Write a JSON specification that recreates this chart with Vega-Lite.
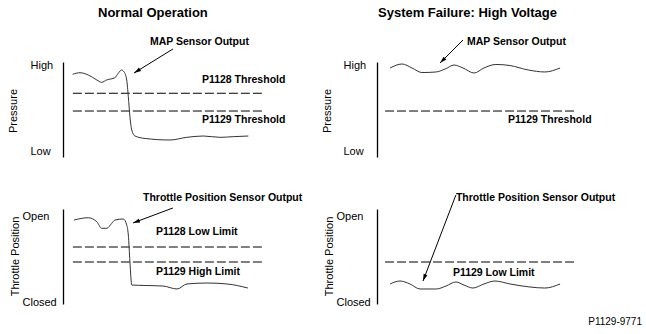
{
  "$schema": "https://vega.github.io/schema/vega-lite/v6.json",
  "autosize": {"type": "none"},
  "padding": {"left": 63, "top": 62, "right": 39, "bottom": 30},
  "params": [{"name": "width", "value": 544}, {"name": "height", "value": 242}],
  "background": "white",
  "config": {
    "font": "Liberation Sans",
    "view": {"stroke": null},
    "title": {"fontSize": 13, "fontWeight": "bold", "color": "#000", "anchor": "start", "frame": "group", "baseline": "alphabetic"},
    "axisY": {"grid": false, "ticks": false, "tickSize": 0, "domain": true, "domainColor": "#000", "domainWidth": 1.3,
              "labelAlign": "left", "labelBaseline": "middle", "labelFontSize": 11, "labelColor": "#000", "labelFlush": false, "labelOverlap": false,
              "titleAngle": -90, "titleAlign": "center", "titleBaseline": "middle", "titleFontSize": 11, "titleFontWeight": "normal", "titleColor": "#000"}
  },
  "datasets": {
    "curves": [
      {"panel": "A", "t": 4.2, "v": 87.1}, {"panel": "A", "t": 7.4, "v": 88.7}, {"panel": "A", "t": 11.0, "v": 86.3},
      {"panel": "A", "t": 14.7, "v": 81.1}, {"panel": "A", "t": 16.8, "v": 78.6}, {"panel": "A", "t": 19.0, "v": 81.1},
      {"panel": "A", "t": 22.6, "v": 83.5}, {"panel": "A", "t": 24.0, "v": 88.1}, {"panel": "A", "t": 25.5, "v": 91.6},
      {"panel": "A", "t": 26.5, "v": 89.8}, {"panel": "A", "t": 27.7, "v": 81.1}, {"panel": "A", "t": 28.4, "v": 63.5},
      {"panel": "A", "t": 29.1, "v": 42.4}, {"panel": "A", "t": 29.9, "v": 28.4}, {"panel": "A", "t": 31.3, "v": 22.1},
      {"panel": "A", "t": 35.7, "v": 19.5}, {"panel": "A", "t": 46.5, "v": 17.9}, {"panel": "A", "t": 53.8, "v": 20.7},
      {"panel": "A", "t": 61.0, "v": 22.1}, {"panel": "A", "t": 68.3, "v": 20.7}, {"panel": "A", "t": 74.0, "v": 21.4},
      {"panel": "A", "t": 80.6, "v": 22.1},
      {"panel": "B", "t": 5.7, "v": 93.7}, {"panel": "B", "t": 10.9, "v": 97.9}, {"panel": "B", "t": 15.2, "v": 93.7},
      {"panel": "B", "t": 19.6, "v": 88.9}, {"panel": "B", "t": 25.7, "v": 89.5}, {"panel": "B", "t": 29.6, "v": 92.6},
      {"panel": "B", "t": 33.5, "v": 96.8}, {"panel": "B", "t": 37.4, "v": 93.7}, {"panel": "B", "t": 42.2, "v": 88.4},
      {"panel": "B", "t": 46.5, "v": 93.7}, {"panel": "B", "t": 51.7, "v": 97.4}, {"panel": "B", "t": 57.8, "v": 96.3},
      {"panel": "B", "t": 65.7, "v": 91.6}, {"panel": "B", "t": 73.0, "v": 89.5}, {"panel": "B", "t": 79.6, "v": 93.7},
      {"panel": "C", "t": 4.8, "v": 88.4}, {"panel": "C", "t": 11.0, "v": 90.8}, {"panel": "C", "t": 14.7, "v": 86.6},
      {"panel": "C", "t": 16.8, "v": 79.7}, {"panel": "C", "t": 19.0, "v": 79.7}, {"panel": "C", "t": 21.2, "v": 84.9},
      {"panel": "C", "t": 22.6, "v": 88.4}, {"panel": "C", "t": 26.2, "v": 89.5}, {"panel": "C", "t": 27.7, "v": 83.2},
      {"panel": "C", "t": 28.4, "v": 72.6}, {"panel": "C", "t": 29.1, "v": 44.5}, {"panel": "C", "t": 29.9, "v": 20.0},
      {"panel": "C", "t": 35.7, "v": 19.5}, {"panel": "C", "t": 43.5, "v": 18.9}, {"panel": "C", "t": 49.6, "v": 15.8},
      {"panel": "C", "t": 53.9, "v": 21.1}, {"panel": "C", "t": 62.6, "v": 22.1}, {"panel": "C", "t": 71.3, "v": 21.1},
      {"panel": "C", "t": 80.4, "v": 16.8},
      {"panel": "D", "t": 5.7, "v": 21.1}, {"panel": "D", "t": 10.0, "v": 24.2}, {"panel": "D", "t": 14.3, "v": 21.1},
      {"panel": "D", "t": 18.7, "v": 15.8}, {"panel": "D", "t": 25.7, "v": 15.8}, {"panel": "D", "t": 30.0, "v": 18.9},
      {"panel": "D", "t": 34.3, "v": 23.2}, {"panel": "D", "t": 37.8, "v": 20.0}, {"panel": "D", "t": 41.7, "v": 16.8},
      {"panel": "D", "t": 46.5, "v": 21.1}, {"panel": "D", "t": 51.3, "v": 24.2}, {"panel": "D", "t": 57.8, "v": 21.1},
      {"panel": "D", "t": 66.5, "v": 17.9}, {"panel": "D", "t": 73.0, "v": 16.8}, {"panel": "D", "t": 79.6, "v": 21.1}
    ],
    "limits": [
      {"panel": "A", "t": 4.3, "t2": 87.0, "v": 67.1},
      {"panel": "A", "t": 4.3, "t2": 87.0, "v": 48.4},
      {"panel": "B", "t": 3.5, "t2": 86.5, "v": 48.4},
      {"panel": "C", "t": 4.3, "t2": 87.0, "v": 60.0},
      {"panel": "C", "t": 4.3, "t2": 87.0, "v": 44.2},
      {"panel": "D", "t": 3.5, "t2": 86.1, "v": 44.2}
    ],
    "arrows": [
      {"panel": "A", "t": 47.8, "v": 113.7, "t2": 30.9, "v2": 88.4, "dir": 238},
      {"panel": "B", "t": 37.4, "v": 123.2, "t2": 27.4, "v2": 98.9, "dir": 225},
      {"panel": "C", "t": 47.8, "v": 101.1, "t2": 30.4, "v2": 85.3, "dir": 250},
      {"panel": "D", "t": 34.3, "v": 114.7, "t2": 20.0, "v2": 24.2, "dir": 201}
    ],
    "notes": [
      {"panel": "A", "t": 37.8, "v": 121.0, "text": "MAP Sensor Output"},
      {"panel": "A", "t": 60.4, "v": 81.1, "text": "P1128 Threshold"},
      {"panel": "A", "t": 60.4, "v": 38.9, "text": "P1129 Threshold"},
      {"panel": "B", "t": 39.1, "v": 121.0, "text": "MAP Sensor Output"},
      {"panel": "B", "t": 57.0, "v": 38.9, "text": "P1129 Threshold"},
      {"panel": "C", "t": 34.8, "v": 111.6, "text": "Throttle Position Sensor Output"},
      {"panel": "C", "t": 40.4, "v": 75.8, "text": "P1128 Low Limit"},
      {"panel": "C", "t": 40.4, "v": 33.7, "text": "P1129 High Limit"},
      {"panel": "D", "t": 34.3, "v": 111.6, "text": "Throttle Position Sensor Output"},
      {"panel": "D", "t": 33.0, "v": 32.6, "text": "P1129 Low Limit"}
    ],
    "source": [
      {"t": 115.2, "v": -18.9, "text": "P1129-9771"}
    ]
  },
  "concat": [
    {
      "width": 230, "height": 95,
      "title": {"text": "Normal Operation", "dx": 35, "offset": 17},
      "encoding": {
        "x": {"field": "t", "type": "quantitative", "scale": {"domain": [0, 100]}, "axis": null},
        "y": {"field": "v", "type": "quantitative", "scale": {"domain": [0, 100]},
              "axis": {"title": "Pressure", "values": [5.3, 96.8], "labelExpr": "datum.value > 50 ? 'High' : 'Low'", "labelPadding": 33, "titleX": -50, "titleY": 48.5}}
      },
      "layer": [
        {"data": {"name": "limits"}, "transform": [{"filter": "datum.panel === 'A'"}],
         "mark": {"type": "rule", "strokeDash": [9, 3], "color": "#000", "strokeWidth": 1},
         "encoding": {"x2": {"field": "t2"}}},
        {"data": {"name": "curves"}, "transform": [{"filter": "datum.panel === 'A'"}],
         "mark": {"type": "line", "interpolate": "monotone", "color": "#333", "strokeWidth": 1}},
        {"data": {"name": "arrows"}, "transform": [{"filter": "datum.panel === 'A'"}],
         "mark": {"type": "rule", "color": "#000", "strokeWidth": 1},
         "encoding": {"x2": {"field": "t2"}, "y2": {"field": "v2"}}},
        {"data": {"name": "arrows"}, "transform": [{"filter": "datum.panel === 'A'"}],
         "mark": {"type": "point", "shape": "M0,0L-0.5,1.75L0.5,1.75Z", "filled": true, "size": 64, "color": "#000", "opacity": 1},
         "encoding": {"x": {"field": "t2", "type": "quantitative"}, "y": {"field": "v2", "type": "quantitative"}, "angle": {"field": "dir", "type": "quantitative", "scale": null}}},
        {"data": {"name": "notes"}, "transform": [{"filter": "datum.panel === 'A'"}],
         "mark": {"type": "text", "align": "left", "baseline": "middle", "fontSize": 10.5, "fontWeight": "bold", "color": "#000"},
         "encoding": {"text": {"field": "text"}}}
      ]
    },
    {
      "width": 230, "height": 95,
      "title": {"text": "System Failure: High Voltage", "dx": 1, "offset": 17},
      "encoding": {
        "x": {"field": "t", "type": "quantitative", "scale": {"domain": [0, 100]}, "axis": null},
        "y": {"field": "v", "type": "quantitative", "scale": {"domain": [0, 100]},
              "axis": {"title": "Pressure", "values": [5.3, 96.8], "labelExpr": "datum.value > 50 ? 'High' : 'Low'", "labelPadding": 34, "titleX": -50, "titleY": 48.5}}
      },
      "layer": [
        {"data": {"name": "limits"}, "transform": [{"filter": "datum.panel === 'B'"}],
         "mark": {"type": "rule", "strokeDash": [9, 3], "color": "#000", "strokeWidth": 1},
         "encoding": {"x2": {"field": "t2"}}},
        {"data": {"name": "curves"}, "transform": [{"filter": "datum.panel === 'B'"}],
         "mark": {"type": "line", "interpolate": "monotone", "color": "#333", "strokeWidth": 1}},
        {"data": {"name": "arrows"}, "transform": [{"filter": "datum.panel === 'B'"}],
         "mark": {"type": "rule", "color": "#000", "strokeWidth": 1},
         "encoding": {"x2": {"field": "t2"}, "y2": {"field": "v2"}}},
        {"data": {"name": "arrows"}, "transform": [{"filter": "datum.panel === 'B'"}],
         "mark": {"type": "point", "shape": "M0,0L-0.5,1.75L0.5,1.75Z", "filled": true, "size": 64, "color": "#000", "opacity": 1},
         "encoding": {"x": {"field": "t2", "type": "quantitative"}, "y": {"field": "v2", "type": "quantitative"}, "angle": {"field": "dir", "type": "quantitative", "scale": null}}},
        {"data": {"name": "notes"}, "transform": [{"filter": "datum.panel === 'B'"}],
         "mark": {"type": "text", "align": "left", "baseline": "middle", "fontSize": 10.5, "fontWeight": "bold", "color": "#000"},
         "encoding": {"text": {"field": "text"}}}
      ]
    },
    {
      "width": 230, "height": 95,
      "encoding": {
        "x": {"field": "t", "type": "quantitative", "scale": {"domain": [0, 100]}, "axis": null},
        "y": {"field": "v", "type": "quantitative", "scale": {"domain": [0, 100]},
              "axis": {"title": "Throttle Position", "values": [2.1, 91.6], "labelExpr": "datum.value > 50 ? 'Open' : 'Closed'", "labelPadding": 41, "titleX": -48, "titleY": 47}}
      },
      "layer": [
        {"data": {"name": "limits"}, "transform": [{"filter": "datum.panel === 'C'"}],
         "mark": {"type": "rule", "strokeDash": [9, 3], "color": "#000", "strokeWidth": 1},
         "encoding": {"x2": {"field": "t2"}}},
        {"data": {"name": "curves"}, "transform": [{"filter": "datum.panel === 'C'"}],
         "mark": {"type": "line", "interpolate": "monotone", "color": "#333", "strokeWidth": 1}},
        {"data": {"name": "arrows"}, "transform": [{"filter": "datum.panel === 'C'"}],
         "mark": {"type": "rule", "color": "#000", "strokeWidth": 1},
         "encoding": {"x2": {"field": "t2"}, "y2": {"field": "v2"}}},
        {"data": {"name": "arrows"}, "transform": [{"filter": "datum.panel === 'C'"}],
         "mark": {"type": "point", "shape": "M0,0L-0.5,1.75L0.5,1.75Z", "filled": true, "size": 64, "color": "#000", "opacity": 1},
         "encoding": {"x": {"field": "t2", "type": "quantitative"}, "y": {"field": "v2", "type": "quantitative"}, "angle": {"field": "dir", "type": "quantitative", "scale": null}}},
        {"data": {"name": "notes"}, "transform": [{"filter": "datum.panel === 'C'"}],
         "mark": {"type": "text", "align": "left", "baseline": "middle", "fontSize": 10.5, "fontWeight": "bold", "color": "#000"},
         "encoding": {"text": {"field": "text"}}}
      ]
    },
    {
      "width": 230, "height": 95,
      "encoding": {
        "x": {"field": "t", "type": "quantitative", "scale": {"domain": [0, 100]}, "axis": null},
        "y": {"field": "v", "type": "quantitative", "scale": {"domain": [0, 100]},
              "axis": {"title": "Throttle Position", "values": [2.1, 91.6], "labelExpr": "datum.value > 50 ? 'Open' : 'Closed'", "labelPadding": 41, "titleX": -48, "titleY": 47}}
      },
      "layer": [
        {"data": {"name": "limits"}, "transform": [{"filter": "datum.panel === 'D'"}],
         "mark": {"type": "rule", "strokeDash": [9, 3], "color": "#000", "strokeWidth": 1},
         "encoding": {"x2": {"field": "t2"}}},
        {"data": {"name": "curves"}, "transform": [{"filter": "datum.panel === 'D'"}],
         "mark": {"type": "line", "interpolate": "monotone", "color": "#333", "strokeWidth": 1}},
        {"data": {"name": "arrows"}, "transform": [{"filter": "datum.panel === 'D'"}],
         "mark": {"type": "rule", "color": "#000", "strokeWidth": 1},
         "encoding": {"x2": {"field": "t2"}, "y2": {"field": "v2"}}},
        {"data": {"name": "arrows"}, "transform": [{"filter": "datum.panel === 'D'"}],
         "mark": {"type": "point", "shape": "M0,0L-0.5,1.75L0.5,1.75Z", "filled": true, "size": 64, "color": "#000", "opacity": 1},
         "encoding": {"x": {"field": "t2", "type": "quantitative"}, "y": {"field": "v2", "type": "quantitative"}, "angle": {"field": "dir", "type": "quantitative", "scale": null}}},
        {"data": {"name": "notes"}, "transform": [{"filter": "datum.panel === 'D'"}],
         "mark": {"type": "text", "align": "left", "baseline": "middle", "fontSize": 10.5, "fontWeight": "bold", "color": "#000"},
         "encoding": {"text": {"field": "text"}}},
        {"data": {"name": "source"},
         "mark": {"type": "text", "align": "right", "baseline": "middle", "fontSize": 10, "color": "#000"},
         "encoding": {"text": {"field": "text"}}}
      ]
    }
  ],
  "columns": 2,
  "spacing": {"row": 52, "column": 84},
  "bounds": "flush"
}
